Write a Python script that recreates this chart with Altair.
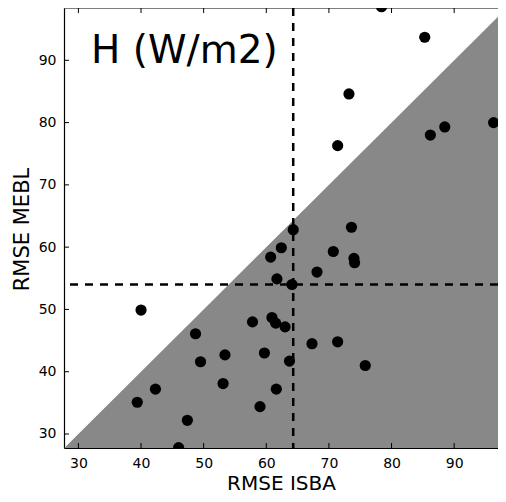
import altair as alt
import pandas as pd

# Data
isba = [78.4, 85.3, 73.2, 71.4, 86.2, 88.5, 96.3, 64.3, 73.6, 62.4, 70.7, 60.7,
        74.0, 74.1, 61.7, 68.1, 64.1, 40.0, 60.9, 61.5, 57.8, 63.0, 48.7, 67.3,
        71.4, 53.4, 59.7, 49.5, 63.7, 75.8, 53.1, 42.3, 61.6, 39.4, 59.0, 47.4, 46.0]
mebl = [98.6, 93.7, 84.6, 76.3, 78.0, 79.3, 80.0, 62.8, 63.2, 59.9, 59.3, 58.4,
        58.2, 57.5, 54.9, 56.0, 54.0, 49.9, 48.7, 47.8, 48.0, 47.2, 46.1, 44.5,
        44.8, 42.7, 43.0, 41.6, 41.7, 41.0, 38.1, 37.2, 37.2, 35.1, 34.4, 32.2, 27.8]
mean_isba = [64.3]
mean_mebl = [54.0]
x_domain = [27.7, 97.0]
y_domain = [27.75, 98.4]
diag = [27.7, 98.4]
tick_values = [30, 40, 50, 60, 70, 80, 90]
panel_title = ["H (W/m2)"]

W, H = 434, 440
FONT = "DejaVu Sans"

pts = pd.DataFrame({"isba": isba, "mebl": mebl})
tri = pd.DataFrame({"v": diag})
ticks = pd.DataFrame({"t": tick_values})

xs = alt.Scale(domain=x_domain, nice=False, zero=False)
ys = alt.Scale(domain=y_domain, nice=False, zero=False)

xaxis = alt.Axis(values=tick_values, ticks=False, grid=False,
                 domain=True, domainColor="black", domainWidth=1.2,
                 labelFont=FONT, labelFontSize=14, labelColor="black", labelPadding=8,
                 title="RMSE ISBA", titleFont=FONT, titleFontSize=20,
                 titleFontWeight="normal", titleColor="black",
                 titleBaseline="alphabetic", titleY=41)
yaxis = alt.Axis(values=tick_values, ticks=False, grid=False,
                 domain=True, domainColor="black", domainWidth=1.2,
                 labelFont=FONT, labelFontSize=14, labelColor="black", labelPadding=8,
                 title="RMSE MEBL", titleFont=FONT, titleFontSize=21,
                 titleFontWeight="normal", titleColor="black",
                 titleBaseline="alphabetic", titleX=-36, titleY=221)

area = alt.Chart(tri).mark_area(color="#888888", opacity=1, clip=True).encode(
    x=alt.X("v:Q", scale=xs, axis=xaxis),
    y=alt.Y("v:Q", scale=ys, axis=yaxis),
    y2=alt.datum(y_domain[0]),
)

vline = alt.Chart(pd.DataFrame({"m": mean_isba})).mark_rule(
    color="black", strokeWidth=2.5, strokeDash=[8, 7]).encode(
    x=alt.X("m:Q", scale=xs))
hline = alt.Chart(pd.DataFrame({"m": mean_mebl})).mark_rule(
    color="black", strokeWidth=2.5, strokeDash=[8, 7]).encode(
    y=alt.Y("m:Q", scale=ys))

points = alt.Chart(pts).mark_circle(size=125, color="black", opacity=1, clip=True).encode(
    x=alt.X("isba:Q", scale=xs),
    y=alt.Y("mebl:Q", scale=ys),
)

top_spine = alt.Chart(pd.DataFrame({"s": [0]})).mark_rule(color="black", strokeWidth=1.2).encode(
    x=alt.value(0), x2=alt.value(W), y=alt.value(0))

tl = 5
tick_b = alt.Chart(ticks).mark_rule(color="black", strokeWidth=1).encode(
    x=alt.X("t:Q", scale=xs), y=alt.value(H), y2=alt.value(H - tl))
tick_t = alt.Chart(ticks).mark_rule(color="black", strokeWidth=1).encode(
    x=alt.X("t:Q", scale=xs), y=alt.value(0), y2=alt.value(tl))
tick_l = alt.Chart(ticks).mark_rule(color="black", strokeWidth=1).encode(
    y=alt.Y("t:Q", scale=ys), x=alt.value(0), x2=alt.value(tl))

label = alt.Chart(pd.DataFrame({"t": panel_title})).mark_text(
    align="left", baseline="alphabetic", font=FONT, fontSize=39, color="black").encode(
    x=alt.value(27), y=alt.value(55), text="t:N")

chart = alt.layer(area, vline, hline, points, top_spine, tick_b, tick_t, tick_l, label).properties(
    width=W, height=H,
    autosize=alt.AutoSizeParams(type="none"),
    padding={"left": 56, "top": 0, "right": 0, "bottom": 46},
).configure_view(stroke=None)

chart.save("out.html", embed_options={"renderer": "svg", "actions": False})
